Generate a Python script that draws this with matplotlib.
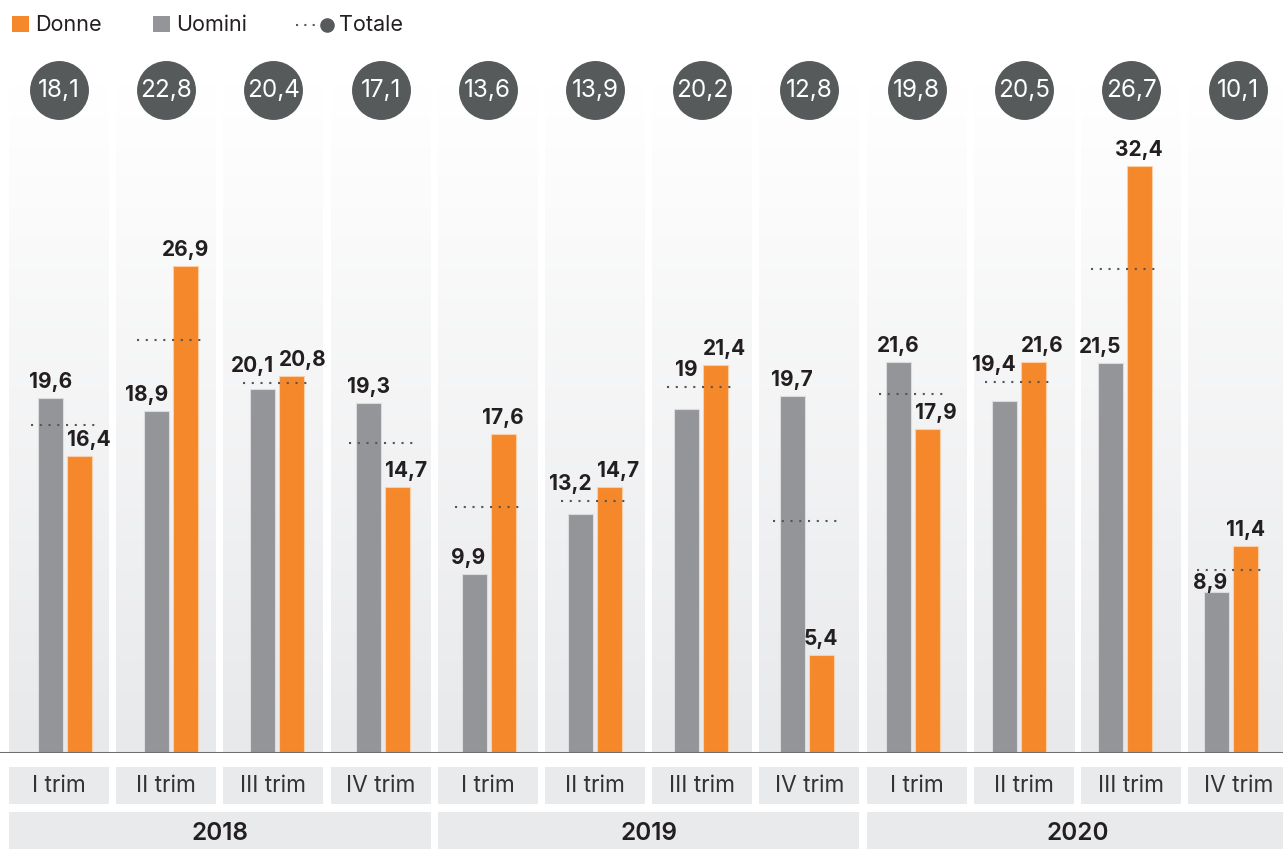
import numpy as np
import matplotlib
matplotlib.use("Agg")
from matplotlib import pyplot as plt
from matplotlib.patches import Rectangle

# Data
QUARTERS = ["I trim", "II trim", "III trim", "IV trim"] * 3
YEARS = ["2018", "2019", "2020"]
TOTALE = [18.1, 22.8, 20.4, 17.1, 13.6, 13.9, 20.2, 12.8, 19.8, 20.5, 26.7, 10.1]
UOMINI = [19.6, 18.9, 20.1, 19.3, 9.9, 13.2, 19.0, 19.7, 21.6, 19.4, 21.5, 8.9]
DONNE = [16.4, 26.9, 20.8, 14.7, 17.6, 14.7, 21.4, 5.4, 17.9, 21.6, 32.4, 11.4]

# Colours
ORANGE = "#f4882a"
GRAY = "#939598"
DARK = "#565a5b"
BOX = "#e9eaec"
TEXT = "#231f20"

plt.rcParams["font.family"] = ["Inter", "DejaVu Sans"]

W, H = 1283, 849
BASE = 753          # baseline pixel row
PX_PER_UNIT = 18.12  # pixels per value unit
COL_STEP = 107.2     # spacing of background columns / boxes
COL_W = 100
BAR_STEP = 106.0     # spacing of bar pairs
BAR_W = 25


def fmt(v):
    s = f"{v:.1f}".replace(".", ",")
    return s[:-2] if s.endswith(",0") else s


fig = plt.figure(figsize=(W / 100, H / 100), dpi=100)

# background layer in pixel coordinates
bg = fig.add_axes([0, 0, 1, 1])
bg.axis("off")

grad = np.linspace(0, 1, 256).reshape(-1, 1)
top_c = np.array([1.0, 1.0, 1.0])
bot_c = np.array([232, 233, 235]) / 255
img = (top_c + (bot_c - top_c) * grad).reshape(256, 1, 3)

for i in range(12):
    x0 = 9 + COL_STEP * i
    bg.imshow(img, extent=[x0, x0 + COL_W, BASE, 85], aspect="auto", zorder=0,
              interpolation="bilinear")
    # quarter box
    bg.add_patch(Rectangle((x0, 767), COL_W, 37, color=BOX, lw=0, zorder=1))
    bg.text(x0 + COL_W / 2, 786, QUARTERS[i], ha="center", va="center",
            fontsize=16.3, color="#333333", zorder=2)
    # total circle
    cx = x0 + COL_W / 2
    bg.scatter([cx], [89.5], s=1800, color=DARK, lw=0, zorder=3)
    bg.text(cx, 90, fmt(TOTALE[i]), ha="center", va="center",
            fontsize=17.5, color="white", zorder=4)

for j, yr in enumerate(YEARS):
    x0 = 9 + COL_STEP * 4 * j
    wdt = COL_STEP * 3 + COL_W
    bg.add_patch(Rectangle((x0, 812), wdt, 40, color=BOX, lw=0, zorder=1))
    bg.text(x0 + wdt / 2, 833, yr, ha="center", va="center", fontsize=17.5,
            fontweight="semibold", color=TEXT, zorder=2)

# legend
bg.add_patch(Rectangle((12, 16), 17, 16, color=ORANGE, lw=0))
bg.text(35, 24.5, "Donne", va="center", fontsize=15.5, color=TEXT)
bg.add_patch(Rectangle((153, 16), 17, 16, color=GRAY, lw=0))
bg.text(176, 24.5, "Uomini", va="center", fontsize=15.5, color=TEXT)
bg.plot([296, 318], [25, 25], ls=(0, (1, 3)), color=DARK, lw=1.5)
bg.scatter([327], [25], s=110, color=DARK, lw=0)
bg.text(339, 24.5, "Totale", va="center", fontsize=15.5, color=TEXT)

bg.set_xlim(0, W)
bg.set_ylim(H, 0)

# main data layer
ax = fig.add_axes([0, (H - BASE) / H, 1, BASE / H])
ax.set_xlim(0, W)
ax.set_ylim(0, BASE / PX_PER_UNIT)
ax.axis("off")
ax.patch.set_alpha(0)

x_pair = 64.75 + BAR_STEP * np.arange(12)
xg = x_pair - BAR_W / 2 - 2
xo = x_pair + BAR_W / 2 + 2
ax.bar(xg, UOMINI, width=BAR_W, color=GRAY, edgecolor="#dcdcde", lw=0.8, zorder=2)
ax.bar(xo, DONNE, width=BAR_W, color=ORANGE, edgecolor="#fbd0a8", lw=0.8, zorder=2)

# totale dotted lines
for i in range(12):
    ax.plot([x_pair[i] - 34, x_pair[i] + 32], [TOTALE[i], TOTALE[i]],
            ls=(0, (1, 3.2)), color="#555555", lw=1.5, zorder=3)

# value labels
pad = 6 / PX_PER_UNIT


def label_pos(v, tot):
    # move a label off the totale line when the line would cut through it
    if 0 <= tot - v < 1.25:
        if v >= 10:
            return tot + 7 / PX_PER_UNIT, "bottom"
        return tot - 3 / PX_PER_UNIT, "top"
    return v + pad, "bottom"


for i in range(12):
    u, d = UOMINI[i], DONNE[i]
    close = abs(u - d) < 2.45
    if u < d:
        ug = ("right", xg[i] + BAR_W / 2 - 1)
        do = ("left", xo[i] - BAR_W / 2) if close else ("center", xo[i])
    else:
        do = ("left", xo[i] - BAR_W / 2) if d > 6 else ("center", xo[i])
        ug = ("right", xg[i] + BAR_W / 2) if close else ("center", xg[i])
    for (ha, x), v in ((ug, u), (do, d)):
        y, va = label_pos(v, TOTALE[i])
        ax.text(x, y, fmt(v), ha=ha, va=va, fontsize=15, fontweight="bold",
                color=TEXT, zorder=4)

ax.axhline(0, color="#6e6e6e", lw=2.2, zorder=5)

fig.savefig("out.png", dpi=100)
